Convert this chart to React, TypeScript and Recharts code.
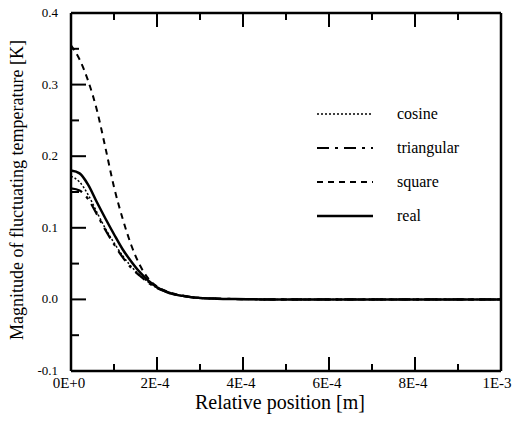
import React from "react";
import { LineChart, Line, XAxis, YAxis } from "recharts";

const positions = [0, 2e-5, 4e-5, 6e-5, 8e-5, 1e-4, 1.2e-4, 1.4e-4, 1.6e-4, 1.8e-4, 2e-4, 2.2e-4, 2.4e-4, 2.6e-4, 2.8e-4, 3e-4, 3.4e-4, 3.8e-4, 4.5e-4, 6e-4, 8e-4, 1e-3];
const cosine = [0.172, 0.164, 0.146, 0.122, 0.099, 0.079, 0.061, 0.046, 0.034, 0.024, 0.016, 0.011, 0.007, 0.005, 0.003, 0.002, 0.001, 0.0005, 0, 0, 0, 0];
const triangular = [0.155, 0.152, 0.14, 0.119, 0.097, 0.077, 0.059, 0.044, 0.033, 0.023, 0.016, 0.011, 0.007, 0.005, 0.003, 0.002, 0.001, 0.0005, 0, 0, 0, 0];
const square = [0.355, 0.335, 0.305, 0.265, 0.212, 0.157, 0.113, 0.076, 0.048, 0.029, 0.018, 0.012, 0.008, 0.005, 0.003, 0.002, 0.001, 0.0005, 0, 0, 0, 0];
const real = [0.18, 0.176, 0.16, 0.136, 0.113, 0.091, 0.07, 0.053, 0.038, 0.026, 0.017, 0.011, 0.007, 0.005, 0.003, 0.002, 0.001, 0.0005, 0, 0, 0, 0];

const xTicks = [0, 1e-4, 2e-4, 3e-4, 4e-4, 5e-4, 6e-4, 7e-4, 8e-4, 9e-4, 1e-3];
const xTickLabels = ["0E+0", "2E-4", "4E-4", "6E-4", "8E-4", "1E-3"];
const yTicks = [-0.1, -0.05, 0, 0.05, 0.1, 0.15, 0.2, 0.25, 0.3, 0.35, 0.4];
const yTickLabels = ["-0.1", "0.0", "0.1", "0.2", "0.3", "0.4"];
const rightTicks = [1, 2, 3, 4, 5];

const seriesNames = ["cosine", "triangular", "square", "real"];
const seriesDash = ["2 2", "12 6 3 6", "6 5", ""];
const seriesWidth = [1.5, 2.2, 2, 2.5];
const seriesKeys = ["cosine", "triangular", "square", "real"];

const data = positions.map((x, i) => ({
  x,
  cosine: cosine[i],
  triangular: triangular[i],
  square: square[i],
  real: real[i],
}));

const FONT = '"Liberation Serif", "DejaVu Serif", "Times New Roman", Times, serif';
const txt = (size: number): React.CSSProperties => ({ fontFamily: FONT, fontSize: size, fill: "#000" });

const BottomTick = (props: any) => {
  const { x, y, index } = props;
  const major = index % 2 === 0;
  const last = index === xTicks.length - 1;
  return (
    <g>
      <line x1={x} x2={x} y1={y} y2={y - (major ? 14 : 7)} stroke="#000" strokeWidth={2} />
      {major && (
        <text x={x - (last ? 4 : 2)} y={y + 17} textAnchor="middle" style={txt(15)}>
          {xTickLabels[index / 2]}
        </text>
      )}
    </g>
  );
};

const TopTick = (props: any) => {
  const { x, y, index } = props;
  const major = index % 2 === 0;
  return <line x1={x} x2={x} y1={y} y2={y + (major ? 14 : 7)} stroke="#000" strokeWidth={2} />;
};

const LeftTick = (props: any) => {
  const { x, y, index } = props;
  const major = index % 2 === 0;
  return (
    <g>
      <line x1={x} x2={x + (major ? 15 : 8)} y1={y} y2={y} stroke="#000" strokeWidth={2} />
      {major && (
        <text x={x - 13} y={y + 4} textAnchor="end" style={txt(13)}>
          {yTickLabels[index / 2]}
        </text>
      )}
    </g>
  );
};

const RightTick = (props: any) => {
  const { x, y, payload } = props;
  const major = payload.value % 2 === 0;
  return <line x1={x} x2={x - (major ? 16 : 9)} y1={y} y2={y} stroke="#000" strokeWidth={2} />;
};

const YLabel = (props: any) => {
  const vb = props.viewBox || { y: 13, height: 358 };
  const cy = vb.y + vb.height / 2 - 2;
  return (
    <text x={23} y={cy} transform={`rotate(-90 23 ${cy})`} textAnchor="middle" style={txt(18)}>
      Magnitude of fluctuating temperature [K]
    </text>
  );
};

const LegendBox = () => (
  <svg width={180} height={140} style={{ position: "absolute", left: 317, top: 103, overflow: "visible" }}>
    {seriesNames.map((name, i) => (
      <g key={name}>
        <line
          x1={0}
          x2={56}
          y1={11 + i * 34}
          y2={11 + i * 34}
          stroke="#000"
          strokeWidth={seriesWidth[i]}
          strokeDasharray={seriesDash[i] || undefined}
        />
        <text x={80} y={16 + i * 34} style={txt(16)}>
          {name}
        </text>
      </g>
    ))}
  </svg>
);

export default function App() {
  return (
    <div style={{ width: 518, height: 428, position: "absolute", left: 0, top: 0, fontFamily: FONT, overflow: "hidden" }}>
      <LineChart width={518} height={428} data={data} margin={{ top: 12, right: 0, bottom: 0, left: 0 }}>
        <XAxis
          xAxisId="b"
          dataKey="x"
          type="number"
          domain={[0, 0.001]}
          ticks={xTicks}
          interval={0}
          tickLine={false}
          tickSize={0}
          tickMargin={0}
          tick={<BottomTick />}
          axisLine={{ stroke: "#000", strokeWidth: 2.5 }}
          height={57}
          label={{ value: "Relative position [m]", position: "insideBottom", offset: 19, dx: -6, style: txt(20) }}
        />
        <XAxis
          xAxisId="t"
          orientation="top"
          dataKey="x"
          type="number"
          domain={[0, 0.001]}
          ticks={xTicks}
          interval={0}
          tickLine={false}
          tickSize={0}
          tickMargin={0}
          tick={<TopTick />}
          axisLine={{ stroke: "#000", strokeWidth: 2.5 }}
          height={1}
        />
        <YAxis
          yAxisId="l"
          type="number"
          domain={[-0.1, 0.4]}
          ticks={yTicks}
          interval={0}
          tickLine={false}
          tickSize={0}
          tickMargin={0}
          tick={<LeftTick />}
          axisLine={{ stroke: "#000", strokeWidth: 2.5 }}
          width={71}
          label={<YLabel />}
        />
        <YAxis
          yAxisId="r"
          orientation="right"
          type="number"
          domain={[0, 6]}
          ticks={rightTicks}
          interval={0}
          tickLine={false}
          tickSize={0}
          tickMargin={0}
          tick={<RightTick />}
          axisLine={{ stroke: "#000", strokeWidth: 2.5 }}
          width={17}
        />
        {seriesKeys.map((k, i) => (
          <Line
            key={k}
            xAxisId="b"
            yAxisId="l"
            dataKey={k}
            name={seriesNames[i]}
            type="monotone"
            stroke="#000"
            strokeWidth={seriesWidth[i]}
            strokeDasharray={seriesDash[i] || undefined}
            dot={false}
            activeDot={false}
            isAnimationActive={false}
          />
        ))}
      </LineChart>
      <LegendBox />
    </div>
  );
}
